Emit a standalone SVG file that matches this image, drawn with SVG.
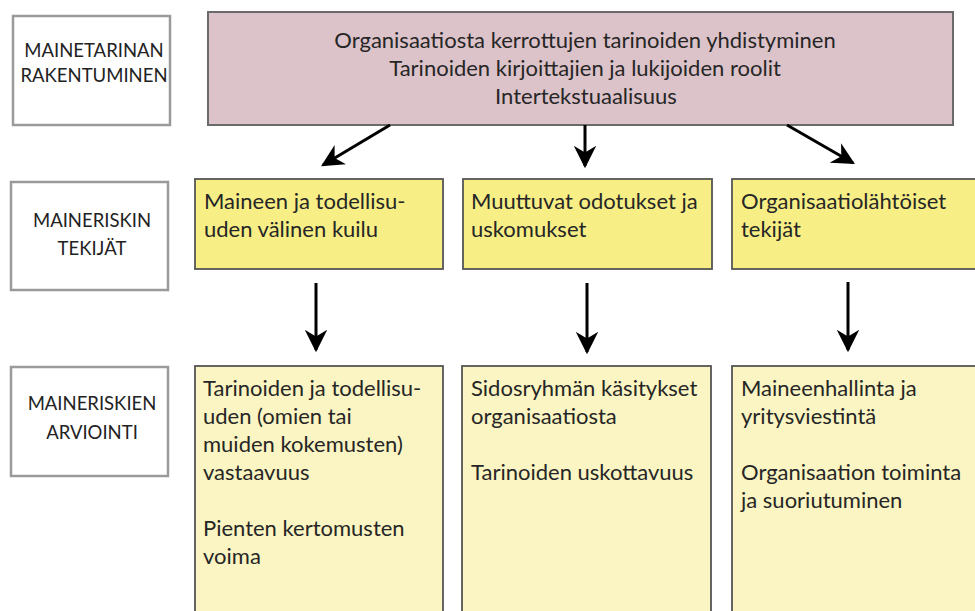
<svg xmlns="http://www.w3.org/2000/svg" width="975" height="611" viewBox="0 0 975 611">
<defs>
<marker id="ah" viewBox="0 0 10 10" refX="9" refY="5" markerWidth="7.5" markerHeight="7.5" orient="auto" markerUnits="strokeWidth">
<path d="M0,0 L10,5 L0,10 L3,5 Z" fill="#000"/>
</marker>
</defs>
<style>
.lbl{fill:#fff;stroke:#9a9a9a;stroke-width:2.5}
.lt{font-family:Lato,"Liberation Sans",sans-serif;font-size:18.5px;fill:#222;text-anchor:middle}
.top{fill:#dcc3c9;stroke:#6a6a6a;stroke-width:2}
.y1{fill:#f7ef86;stroke:#555;stroke-width:1.8}
.y2{fill:#faf5c2;stroke:#555;stroke-width:1.8}
.t{font-family:Lato,"Liberation Sans",sans-serif;font-size:22px;fill:#262626}
.tc{text-anchor:middle}
.c{stroke:#000;stroke-width:3;fill:none;marker-end:url(#ah)}
</style>
<rect width="975" height="611" fill="#fff"/>
<g id="label1"><rect class="lbl" x="13" y="16" width="157" height="109"/>
<text class="lt" x="94" y="57">MAINETARINAN</text><text class="lt" x="94" y="82">RAKENTUMINEN</text></g>
<g id="label2"><rect class="lbl" x="11" y="182" width="157" height="108"/>
<text class="lt" x="92" y="227">MAINERISKIN</text><text class="lt" x="92" y="255">TEKIJÄT</text></g>
<g id="label3"><rect class="lbl" x="11" y="367" width="157" height="109"/>
<text class="lt" x="92" y="410">MAINERISKIEN</text><text class="lt" x="92" y="439">ARVIOINTI</text></g>
<g id="top"><rect class="top" x="208" y="12" width="745" height="113"/>
<text class="t tc" x="585" y="48">Organisaatiosta kerrottujen tarinoiden yhdistyminen</text>
<text class="t tc" x="585" y="76">Tarinoiden kirjoittajien ja lukijoiden roolit</text>
<text class="t tc" x="586" y="104">Intertekstuaalisuus</text></g>
<g id="f1"><rect class="y1" x="195" y="179" width="248" height="90"/>
<text class="t" x="204" y="209">Maineen ja todellisu-</text><text class="t" x="204" y="237">uden välinen kuilu</text></g>
<g id="f2"><rect class="y1" x="463" y="179" width="249" height="90"/>
<text class="t" x="471" y="209">Muuttuvat odotukset ja</text><text class="t" x="471" y="237">uskomukset</text></g>
<g id="f3"><rect class="y1" x="732" y="179" width="250" height="90"/>
<text class="t" x="741" y="209">Organisaatiolähtöiset</text><text class="t" x="741" y="237">tekijät</text></g>
<g id="a1"><rect class="y2" x="195" y="366" width="248" height="250"/>
<text class="t" x="203" y="396">Tarinoiden ja todellisu-</text><text class="t" x="203" y="424">uden (omien tai</text>
<text class="t" x="203" y="452">muiden kokemusten)</text><text class="t" x="203" y="480">vastaavuus</text>
<text class="t" x="203" y="536">Pienten kertomusten</text><text class="t" x="203" y="564">voima</text></g>
<g id="a2"><rect class="y2" x="462" y="366" width="249" height="250"/>
<text class="t" x="471" y="396">Sidosryhmän käsitykset</text><text class="t" x="471" y="424">organisaatiosta</text>
<text class="t" x="471" y="480">Tarinoiden uskottavuus</text></g>
<g id="a3"><rect class="y2" x="732" y="366" width="250" height="250"/>
<text class="t" x="741" y="396">Maineenhallinta ja</text><text class="t" x="741" y="424">yritysviestintä</text>
<text class="t" x="741" y="480">Organisaation toiminta</text><text class="t" x="741" y="508">ja suoriutuminen</text></g>
<g id="connectors">
<line class="c" x1="390" y1="125" x2="323" y2="165"/>
<line class="c" x1="585" y1="125" x2="585" y2="166"/>
<line class="c" x1="787" y1="125" x2="853" y2="163"/>
<line class="c" x1="316" y1="283" x2="316" y2="350"/>
<line class="c" x1="587" y1="283" x2="587" y2="352"/>
<line class="c" x1="848" y1="282" x2="848" y2="350"/>
</g>
</svg>
